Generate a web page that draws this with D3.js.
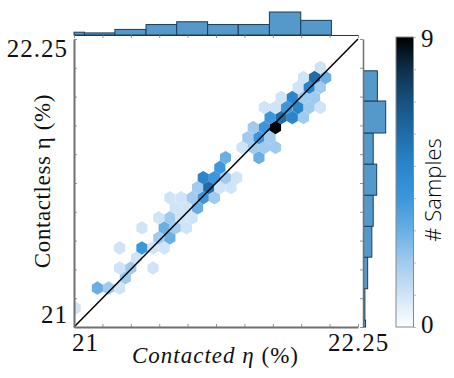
<!DOCTYPE html>
<html>
<head>
<meta charset="utf-8">
<script src="https://cdn.jsdelivr.net/npm/d3@7"></script>
<style>
  html, body { margin: 0; padding: 0; background: #fff; }
  svg { display: block; }
  .serif { font-family: "Liberation Serif", serif; fill: #111; }
</style>
</head>
<body>
<div id="chart"></div>
<script>
// hexbin cells, contacted eta / contactless eta / samples in the cell
var hexX = [21.005,
  21.103, 21.152, 21.201, 21.226,
  21.201, 21.250, 21.348, 21.275,
  21.201, 21.299, 21.348, 21.397,
  21.373, 21.422, 21.299, 21.397, 21.446, 21.495,
  21.373, 21.422, 21.471, 21.520,
  21.446, 21.495, 21.544,
  21.422, 21.471, 21.520, 21.569, 21.618,
  21.544, 21.593, 21.642, 21.691,
  21.569, 21.618, 21.667, 21.716,
  21.642, 21.667,
  21.814, 21.740, 21.789, 21.838, 21.887,
  21.765, 21.814, 21.863,
  21.789, 21.838, 21.887,
  21.863, 21.912, 21.961, 22.010,
  21.838, 21.887, 21.936, 21.986, 22.035, 22.084,
  21.912, 21.961, 22.010, 22.059,
  21.986, 22.035, 22.084,
  22.010, 22.059, 22.108,
  22.084];
var hexY = [21.082,
  21.169, 21.169, 21.169, 21.213,
  21.256, 21.256, 21.256, 21.300,
  21.343, 21.343, 21.343, 21.343,
  21.387, 21.387, 21.430, 21.430, 21.430, 21.430,
  21.474, 21.474, 21.474, 21.474,
  21.517, 21.517, 21.517,
  21.561, 21.561, 21.561, 21.561, 21.561,
  21.605, 21.605, 21.605, 21.605,
  21.648, 21.648, 21.648, 21.648,
  21.692, 21.735,
  21.735, 21.779, 21.779, 21.779, 21.779,
  21.822, 21.822, 21.822,
  21.866, 21.866, 21.866,
  21.909, 21.909, 21.909, 21.909,
  21.953, 21.953, 21.953, 21.953, 21.953, 21.953,
  21.996, 21.996, 21.996, 21.996,
  22.040, 22.040, 22.040,
  22.083, 22.083, 22.083,
  22.127];
var hexN = [1,
  3, 2, 1, 2,
  1, 2, 1, 1,
  1, 4, 1, 1,
  2, 3, 1, 3, 2, 1,
  1, 2, 1, 1,
  1, 1, 3,
  1, 1, 2, 4, 2,
  2, 6, 1, 1,
  5, 4, 2, 1,
  4, 3,
  3, 1, 2, 2, 2,
  2, 4, 2,
  2, 4, 9,
  4, 6, 5, 2,
  1, 1, 4, 5, 2, 1,
  1, 5, 2, 2,
  1, 5, 2,
  1, 6, 3,
  1];

// marginal histograms
var topEdges = [21, 21.046, 21.180, 21.317, 21.452, 21.588, 21.723, 21.860, 21.998, 22.133];
var topCounts = [4, 3, 8, 15, 19, 15, 15, 33, 21];
var rightEdges = [21, 21.030, 21.166, 21.303, 21.437, 21.572, 21.707, 21.842, 21.981, 22.112];
var rightCounts = [3, 2, 6, 12, 14, 19, 14, 32, 20];

var axisTicks = d3.range(0, 11).map(d => 21 + d * 0.125);
var colorDomain = [0, 1, 2, 3, 4, 5, 6, 7, 8, 9];
var colorRange = ['#ffffff', '#cfe4f6', '#a1cbee', '#69afe4', '#3b96dc', '#2a85cb', '#1f6ca8', '#17527f', '#0d2f4a', '#000000'];

var hexW = 0.049, hexH = 0.0436;

var svg = d3.select("#chart").append("svg")
    .attr("width", 454)
    .attr("height", 378);

var left = 74, right = 358, top_ = 39, bottom = 327;

var x = d3.scaleLinear().domain([21, 22.25]).range([left, right]);
var y = d3.scaleLinear().domain([21, 22.25]).range([bottom, top_]);
var color = d3.scaleLinear().domain(colorDomain).range(colorRange);

svg.append("defs").append("clipPath").attr("id", "plot-clip")
  .append("rect")
    .attr("x", left).attr("y", top_)
    .attr("width", right - left).attr("height", bottom - top_);

// hexagons, pointy side up
var rx = x(21 + hexW) - x(21);
var ry = (y(21) - y(21 + hexH)) / 1.5;
function hexPath(d) {
  var cx = x(hexX[d]), cy = y(hexY[d]);
  var pts = [[0, -ry], [rx / 2, -ry / 2], [rx / 2, ry / 2], [0, ry], [-rx / 2, ry / 2], [-rx / 2, -ry / 2]];
  return "M" + pts.map(p => (cx + p[0]) + "," + (cy + p[1])).join("L") + "Z";
}

svg.append("g")
    .attr("clip-path", "url(#plot-clip)")
  .selectAll("path")
  .data(d3.range(hexX.length))
  .join("path")
    .attr("d", hexPath)
    .attr("fill", d => color(hexN[d]));

// identity line
svg.append("line")
    .attr("x1", x(21)).attr("y1", y(21))
    .attr("x2", x(22.25)).attr("y2", y(22.25))
    .attr("stroke", "#000")
    .attr("stroke-width", 1.5);

// main axes
var gx = svg.append("g")
    .attr("transform", `translate(0,${bottom})`)
    .call(d3.axisBottom(x).tickValues(axisTicks).tickSize(-3).tickSizeOuter(0).tickFormat(""));
var gy = svg.append("g")
    .attr("transform", `translate(${left},0)`)
    .call(d3.axisLeft(y).tickValues(axisTicks).tickSize(-3).tickSizeOuter(0).tickFormat(""));
[gx, gy].forEach(g => {
  g.select(".domain").attr("stroke", "#707070").attr("stroke-width", 2);
  g.selectAll(".tick line").attr("stroke", "#777").attr("stroke-width", 0.8);
});

// top histogram
var topBase = 35;
var topScale = d3.scaleLinear().domain([0, 33]).range([topBase, 12]);
svg.append("g").selectAll("rect")
  .data(topCounts)
  .join("rect")
    .attr("x", (d, i) => x(topEdges[i]))
    .attr("width", (d, i) => x(topEdges[i + 1]) - x(topEdges[i]))
    .attr("y", d => topScale(d))
    .attr("height", d => topBase - topScale(d))
    .attr("fill", "#5599cb")
    .attr("stroke", "#1c3d5c")
    .attr("stroke-width", 1);
var gTop = svg.append("g")
    .attr("transform", `translate(0,${topBase})`)
    .call(d3.axisBottom(x).tickValues(axisTicks).tickSize(3).tickSizeOuter(0).tickFormat(""));
gTop.select(".domain").attr("stroke", "#333").attr("stroke-width", 1);
gTop.selectAll(".tick line").attr("stroke", "#777").attr("stroke-width", 0.8);

// right histogram
var rightBase = 363.5;
var rightScale = d3.scaleLinear().domain([0, 32]).range([rightBase, 385.7]);
svg.append("g").selectAll("rect")
  .data(rightCounts)
  .join("rect")
    .attr("x", rightBase)
    .attr("y", (d, i) => y(rightEdges[i + 1]))
    .attr("width", d => rightScale(d) - rightBase)
    .attr("height", (d, i) => y(rightEdges[i]) - y(rightEdges[i + 1]))
    .attr("fill", "#5599cb")
    .attr("stroke", "#1c3d5c")
    .attr("stroke-width", 1);
var gRight = svg.append("g")
    .attr("transform", `translate(${rightBase - 0.5},0)`)
    .call(d3.axisLeft(y).tickValues(axisTicks).tickSize(3).tickSizeOuter(0).tickFormat(""));
gRight.select(".domain").attr("stroke", "#707070").attr("stroke-width", 1.5);
gRight.selectAll(".tick line").attr("stroke", "#777").attr("stroke-width", 0.8);

// colorbar
var cbY = d3.scaleLinear().domain([0, 9]).range([327, 37]);
var grad = svg.select("defs").append("linearGradient")
    .attr("id", "cb-grad")
    .attr("x1", 0).attr("y1", 1).attr("x2", 0).attr("y2", 0);
grad.selectAll("stop")
  .data(colorDomain)
  .join("stop")
    .attr("offset", d => d / 9)
    .attr("stop-color", d => color(d));
svg.append("rect")
    .attr("x", 396).attr("y", cbY(9))
    .attr("width", 17.5).attr("height", cbY(0) - cbY(9))
    .attr("fill", "url(#cb-grad)")
    .attr("stroke", "#888")
    .attr("stroke-width", 1);
var gCb = svg.append("g")
    .attr("transform", "translate(413.5,0)")
    .call(d3.axisRight(cbY).tickValues(d3.range(0, 10)).tickSize(2.5).tickSizeOuter(0).tickFormat(""));
gCb.select(".domain").remove();
gCb.selectAll(".tick line").attr("stroke", "#aaa").attr("stroke-width", 0.8);

// text
function label(px, py, str, anchor) {
  return svg.append("text")
      .attr("class", "serif")
      .attr("x", px).attr("y", py)
      .attr("text-anchor", anchor || "start")
      .attr("font-size", 25)
      .attr("letter-spacing", 1)
      .text(str);
}
label(68, 57, "22.25", "end");
label(68, 323, "21", "end");
label(72, 351, "21");
label(328, 351, "22.25");
label(421, 47, "9");
label(421, 333, "0");

svg.append("text")
    .attr("class", "serif")
    .attr("x", 215.5).attr("y", 363)
    .attr("text-anchor", "middle")
    .attr("font-size", 23)
    .attr("letter-spacing", 1)
    .html('<tspan font-style="italic">Contacted</tspan> <tspan font-style="italic">η</tspan> (%)');

svg.append("text")
    .attr("class", "serif")
    .attr("transform", "translate(50,181) rotate(-90)")
    .attr("text-anchor", "middle")
    .attr("font-size", 23)
    .attr("letter-spacing", 0.6)
    .text("Contactless η (%)");

svg.append("text")
    .attr("transform", "translate(441,190) rotate(-90)")
    .attr("text-anchor", "middle")
    .attr("font-family", "Open Sans")
    .attr("font-weight", 300)
    .attr("font-size", 22)
    .attr("fill", "#000")
    .text("# Samples");
</script>
</body>
</html>
